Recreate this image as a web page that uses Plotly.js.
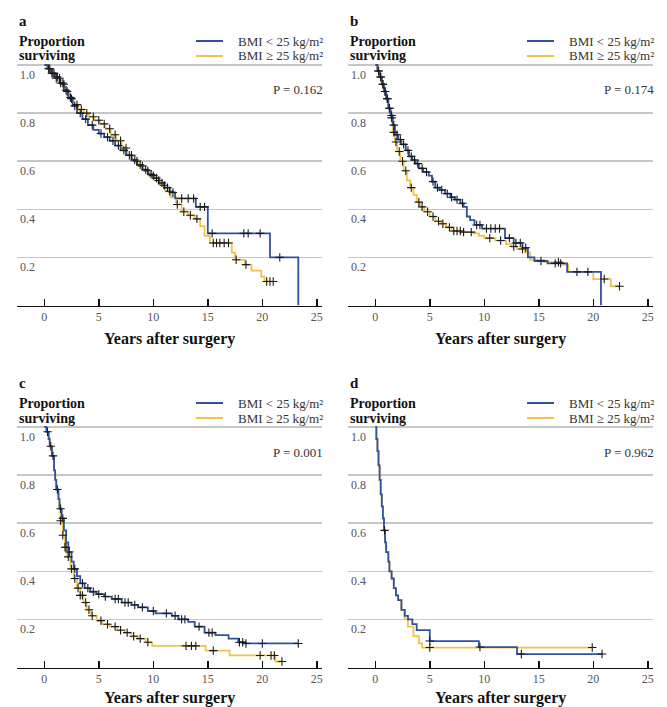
<!DOCTYPE html>
<html><head><meta charset="utf-8">
<script src="https://cdn.plot.ly/plotly-3.0.1.min.js"></script>
<style>html,body{margin:0;padding:0;background:#fff}</style>
</head><body><div id="chart" style="width:667px;height:707px"></div>
<script>
// ---------- data ----------
const panelLetters = ['a', 'b', 'c', 'd'];
const pValues = ['P = 0.162', 'P = 0.174', 'P = 0.001', 'P = 0.962'];
const seriesNames = ['BMI < 25 kg/m²', 'BMI ≥ 25 kg/m²'];
const xTicks = [0, 5, 10, 15, 20, 25];
const yTicks = [0.2, 0.4, 0.6, 0.8, 1.0];
const yTickLabels = ['0.2', '0.4', '0.6', '0.8', '1.0'];

// panel a
const aLowT = [0,0.3,0.6,1.0,1.4,1.8,2.2,2.6,3.0,3.5,4.0,4.5,5.0,5.5,6.0,6.5,7.0,7.5,8.0,8.5,9.0,9.5,10.0,10.5,11.0,11.5,12.0,13.9,15.0,20.7,23.3];
const aLowS = [1,0.985,0.965,0.95,0.925,0.895,0.865,0.83,0.80,0.775,0.75,0.73,0.715,0.70,0.685,0.665,0.645,0.625,0.605,0.585,0.565,0.545,0.53,0.51,0.49,0.47,0.445,0.41,0.30,0.20,0.0];
const aLowEnd = 23.3;
const aLowCens = [0.4,0.7,0.9,1.2,1.5,1.7,2.0,2.4,2.8,3.3,3.8,4.4,5.2,5.8,6.3,6.8,7.3,7.8,8.3,8.8,9.3,9.8,10.3,10.8,11.3,11.8,12.6,13.2,13.7,14.3,14.7,15.4,18.3,18.7,19.8,21.6];
const aHighT = [0,0.3,0.7,1.1,1.5,1.9,2.3,2.7,3.1,3.6,4.1,4.6,5.1,5.6,6.1,6.6,7.1,7.6,8.1,8.6,9.1,9.6,10.1,10.6,11.1,11.6,12.1,12.6,13.2,13.8,14.3,14.7,15.2,17.2,17.5,18.4,19.0,19.9,20.2];
const aHighS = [1,0.985,0.965,0.945,0.92,0.89,0.86,0.835,0.815,0.80,0.785,0.77,0.755,0.735,0.71,0.685,0.655,0.625,0.60,0.58,0.56,0.54,0.52,0.50,0.475,0.45,0.42,0.39,0.375,0.36,0.33,0.29,0.26,0.22,0.19,0.17,0.145,0.12,0.10];
const aHighEnd = 21.0;
const aHighCens = [0.5,0.8,1.1,1.4,1.8,2.1,2.5,3.0,3.4,3.9,4.5,5.0,5.5,6.0,6.5,7.0,7.5,8.0,8.5,9.0,9.5,10.0,10.5,11.0,11.5,12.2,12.8,13.4,14.0,15.5,15.8,16.1,16.5,16.9,17.6,18.5,20.4,20.7,21.0];

// panel b
const bLowT = [0,0.2,0.4,0.6,0.8,1.0,1.2,1.4,1.6,1.8,2.1,2.4,2.8,3.1,3.4,3.7,4.0,4.4,4.9,5.2,5.5,5.9,6.4,6.9,7.3,7.8,8.1,8.4,8.7,9.1,9.8,11.9,12.7,13.5,14.0,14.6,15.8,17.6,20.7];
const bLowS = [1,0.975,0.95,0.92,0.89,0.86,0.82,0.79,0.75,0.71,0.69,0.67,0.645,0.62,0.605,0.59,0.57,0.555,0.54,0.515,0.49,0.48,0.465,0.45,0.44,0.425,0.41,0.37,0.355,0.335,0.32,0.28,0.26,0.24,0.20,0.185,0.175,0.14,0.0];
const bLowEnd = 20.7;
const bLowCens = [0.3,0.5,0.7,0.9,1.1,1.3,1.5,1.7,2.0,2.3,2.6,3.0,3.3,3.6,3.9,4.3,4.7,5.3,5.7,6.1,6.6,7.0,7.5,8.0,9.3,9.6,10.2,10.6,11.0,11.4,12.3,12.9,13.3,13.8,15.2,16.5,17.0,18.5,19.5];
const bHighT = [0,0.2,0.4,0.6,0.8,1.0,1.2,1.4,1.6,1.8,2.0,2.3,2.6,2.9,3.2,3.5,3.8,4.1,4.5,5.0,5.5,6.0,6.5,7.0,8.0,9.0,9.5,10.0,11.0,12.0,12.5,13.0,13.7,14.2,15.5,17.2,17.7,20.0,21.6];
const bHighS = [1,0.975,0.95,0.92,0.89,0.86,0.82,0.78,0.72,0.68,0.64,0.60,0.56,0.52,0.49,0.46,0.43,0.41,0.39,0.37,0.35,0.34,0.325,0.31,0.305,0.30,0.29,0.28,0.27,0.255,0.245,0.235,0.22,0.19,0.18,0.17,0.14,0.11,0.08];
const bHighEnd = 22.4;
const bHighCens = [0.3,0.5,0.7,0.9,1.1,1.3,1.5,1.7,1.9,2.2,2.5,2.8,3.3,4.0,4.3,4.8,5.3,5.8,6.2,6.8,7.2,7.5,7.8,8.1,8.8,10.5,11.5,12.7,13.5,16.8,21.0,22.4];

// panel c
const cLowT = [0,0.2,0.4,0.5,0.7,0.9,1.0,1.1,1.3,1.4,1.6,1.8,2.0,2.2,2.5,2.7,3.0,3.3,3.7,4.2,4.8,5.5,6.2,7.1,8.0,8.6,9.5,10.2,11.7,12.3,13.2,13.8,14.7,15.7,16.9,17.8,18.4];
const cLowS = [1,0.98,0.95,0.92,0.88,0.82,0.78,0.74,0.70,0.66,0.62,0.57,0.52,0.48,0.44,0.41,0.38,0.35,0.33,0.315,0.305,0.295,0.285,0.27,0.26,0.25,0.235,0.225,0.215,0.20,0.19,0.17,0.145,0.135,0.12,0.105,0.10];
const cLowEnd = 23.3;
const cLowCens = [0.3,0.6,0.8,1.2,1.5,1.7,2.3,2.8,3.5,4.0,4.5,5.0,5.6,6.5,6.8,7.4,7.7,8.3,9.0,10.0,11.2,12.0,12.6,12.9,14.2,15.1,15.4,17.9,18.2,18.5,20.0,23.3];
const cHighT = [0,0.2,0.4,0.5,0.7,0.9,1.0,1.1,1.3,1.4,1.5,1.7,1.9,2.1,2.4,2.7,3.0,3.3,3.6,3.9,4.3,4.8,5.3,6.0,6.7,7.4,8.0,8.6,9.3,9.9,14.8,17.0,21.2];
const cHighS = [1,0.98,0.95,0.92,0.88,0.82,0.78,0.74,0.70,0.66,0.61,0.55,0.50,0.46,0.41,0.37,0.33,0.30,0.27,0.24,0.215,0.195,0.18,0.17,0.155,0.145,0.13,0.12,0.105,0.09,0.07,0.05,0.025];
const cHighEnd = 21.8;
const cHighCens = [1.5,1.7,1.9,2.0,2.2,2.5,2.8,3.1,3.3,3.5,3.8,4.1,4.4,5.2,5.8,6.5,7.0,7.6,8.2,8.8,9.5,13.0,13.5,13.9,15.5,19.8,20.8,21.1,21.8];

// panel d
const dLowT = [0,0.1,0.2,0.3,0.4,0.5,0.6,0.7,0.8,0.9,1.0,1.2,1.3,1.5,1.7,1.9,2.1,2.4,2.7,3.0,3.4,3.8,5.0,9.5,13.0];
const dLowS = [1,0.95,0.90,0.84,0.78,0.72,0.67,0.62,0.57,0.52,0.48,0.44,0.40,0.37,0.33,0.30,0.28,0.24,0.215,0.20,0.18,0.155,0.11,0.085,0.056];
const dLowEnd = 20.8;
const dLowCens = [0.85,5.0,9.6,13.4,20.8];
const dHighT = [0,0.1,0.2,0.3,0.4,0.5,0.6,0.7,0.8,0.9,1.0,1.2,1.3,1.5,1.7,1.9,2.1,2.4,2.7,3.0,3.5,4.0,4.3];
const dHighS = [1,0.95,0.90,0.84,0.78,0.72,0.67,0.62,0.57,0.52,0.48,0.44,0.40,0.37,0.33,0.30,0.28,0.24,0.20,0.17,0.13,0.10,0.083];
const dHighEnd = 19.9;
const dHighCens = [5.0,19.9];

// ---------- build ----------
const panels = [
  {low:[aLowT,aLowS,aLowEnd,aLowCens], high:[aHighT,aHighS,aHighEnd,aHighCens]},
  {low:[bLowT,bLowS,bLowEnd,bLowCens], high:[bHighT,bHighS,bHighEnd,bHighCens]},
  {low:[cLowT,cLowS,cLowEnd,cLowCens], high:[cHighT,cHighS,cHighEnd,cHighCens]},
  {low:[dLowT,dLowS,dLowEnd,dLowCens], high:[dHighT,dHighS,dHighEnd,dHighCens]}
];
const BLUE = '#2f51a0', YEL = '#f0c24a', CENS = '#1a1a1a';
const SERIF = 'Liberation Serif, Times New Roman, serif';
const W = 667, H = 707;
const fx = p => p / W, fy = p => 1 - p / H;
const colOff = [0, 331], rowOff = [0, 362];

function stepAt(T, S, t) {
  let v = S[0];
  for (let i = 0; i < T.length; i++) { if (T[i] <= t + 1e-9) v = S[i]; }
  return v;
}

const traces = [];
const layout = {
  width: W, height: H, margin: {l:0, r:0, t:0, b:0},
  paper_bgcolor: '#fff', plot_bgcolor: '#fff', showlegend: false,
  font: {family: SERIF, color: '#222'},
  annotations: [], shapes: []
};

panels.forEach((p, k) => {
  const col = k % 2, row = Math.floor(k / 2);
  const dx = colOff[col], dy = rowOff[row];
  const ax = k === 0 ? '' : String(k + 1);
  const xa = 'x' + ax, ya = 'y' + ax;
  // yellow first so the blue curve sits on top where they coincide
  [['high', YEL, 1], ['low', BLUE, 0]].forEach(([key, color, si]) => {
    const [T, S, end] = p[key];
    const xs = T.concat([end]);
    const ys = S.concat([S[S.length - 1]]);
    traces.push({x: xs, y: ys, xaxis: xa, yaxis: ya, mode: 'lines', line: {shape: 'hv', color: color, width: 1.8}, name: seriesNames[si], hoverinfo: 'skip'});
  });
  [['high', 1], ['low', 0]].forEach(([key, si]) => {
    const [T, S, end, cens] = p[key];
    traces.push({x: cens, y: cens.map(t => stepAt(T, S, t)), xaxis: xa, yaxis: ya, mode: 'markers', name: seriesNames[si] + ' censored',
      marker: {symbol: 'cross-thin', size: 6, color: CENS, line: {width: 1.1, color: CENS}}, hoverinfo: 'skip'});
  });
  const left = 17 + dx, right = 322.3 + dx;
  const top = 62.1 + dy, bottom = 305.5 + dy;
  layout['xaxis' + ax] = {
    domain: [fx(left), fx(right)], anchor: ya, range: [-2.5, 25.5],
    tickvals: xTicks, ticktext: xTicks.map(String), ticks: 'inside', ticklen: 7, tickwidth: 1.5, tickcolor: '#111',
    showline: true, linecolor: '#111', linewidth: 1.5, showgrid: false, zeroline: false,
    tickfont: {family: SERIF, size: 12, color: '#555'},
    title: {text: 'Years after surgery', standoff: 9, font: {family: SERIF, size: 16, color: '#111', weight: 'bold'}}
  };
  layout['yaxis' + ax] = {
    domain: [fy(bottom), fy(top)], anchor: xa, range: [0, 1.012],
    tickvals: yTicks, showticklabels: false, ticks: '', showline: false, zeroline: false,
    showgrid: true, gridcolor: '#c6c6c6', gridwidth: 1.5
  };
  const A = layout.annotations, Sh = layout.shapes;
  // y tick labels, drawn just below each gridline as in the reference
  yTicks.forEach((v, i) => {
    A.push({xref: xa + ' domain', yref: ya, x: 0, y: v, xanchor: 'left', yanchor: 'middle', xshift: 1, yshift: -10,
      showarrow: false, text: yTickLabels[i], font: {family: SERIF, size: 12, color: '#555'}});
  });
  A.push({xref:'paper', yref:'paper', x: fx(17 + dx), y: fy(21 + dy), xanchor:'left', yanchor:'middle', showarrow:false,
    text: panelLetters[k], font: {family: SERIF, size: 15, color: '#111', weight: 'bold'}});
  A.push({xref:'paper', yref:'paper', x: fx(17 + dx), y: fy(41 + dy), xanchor:'left', yanchor:'middle', showarrow:false,
    text: 'Proportion', font: {family: SERIF, size: 14, color: '#111', weight: 'bold'}});
  A.push({xref:'paper', yref:'paper', x: fx(17 + dx), y: fy(56 + dy), xanchor:'left', yanchor:'middle', showarrow:false,
    text: 'surviving', font: {family: SERIF, size: 14, color: '#111', weight: 'bold'}});
  [[BLUE, 41], [YEL, 56]].forEach(([c, yy], si) => {
    Sh.push({type:'line', xref:'paper', yref:'paper', x0: fx(196 + dx), x1: fx(223 + dx), y0: fy(yy + dy), y1: fy(yy + dy), line: {color: c, width: 2}});
    A.push({xref:'paper', yref:'paper', x: fx(325 + dx), y: fy(yy + dy), xanchor:'right', yanchor:'middle', showarrow:false,
      text: seriesNames[si], font: {family: SERIF, size: 13, color: '#333'}});
  });
  A.push({xref:'paper', yref:'paper', x: fx(325 + dx), y: fy(90 + dy), xanchor:'right', yanchor:'middle', showarrow:false,
    text: pValues[k], font: {family: SERIF, size: 13, color: '#333'}});
});

Plotly.newPlot('chart', traces, layout, {displayModeBar: false, staticPlot: true});
</script></body></html>
